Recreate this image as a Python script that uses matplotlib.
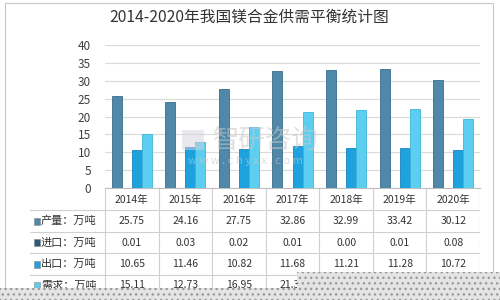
import matplotlib.pyplot as plt
import numpy as np
from matplotlib.patches import Rectangle

plt.rcParams['font.family'] = ['Noto Sans CJK SC', 'DejaVu Sans']

years = ['2014年', '2015年', '2016年', '2017年', '2018年', '2019年', '2020年']
production = [25.75, 24.16, 27.75, 32.86, 32.99, 33.42, 30.12]
imports = [0.01, 0.03, 0.02, 0.01, 0.00, 0.01, 0.08]
exports = [10.65, 11.46, 10.82, 11.68, 11.21, 11.28, 10.72]
demand = [15.11, 12.73, 16.95, 21.3, 21.8, 22.1, 19.4]

row_labels = ['产量：万吨', '进口：万吨', '出口：万吨', '需求：万吨']
series = [production, imports, exports, demand]
colors = ['#4f88a8', '#2c5a78', '#1ea2de', '#5ccff0']
edges = ['#3a6e8c', '#224a63', '#1486bd', '#3fb5d8']

W, H = 500, 300
fig = plt.figure(figsize=(5, 3), dpi=100)
fig.patch.set_facecolor('white')

def px(x0, y0, x1, y1):
    return [x0 / W, 1 - y1 / H, (x1 - x0) / W, (y1 - y0) / H]

# outer frame
fig.add_artist(Rectangle((5 / W, 0), (493 - 5) / W, 1 - 3 / H, transform=fig.transFigure,
                         fill=False, edgecolor='#c8c8c8', linewidth=0.8))

fig.text(249 / W, 1 - 17 / H, '2014-2020年我国镁合金供需平衡统计图', ha='center', va='center',
         fontsize=11.3, color='#333333')

ax = fig.add_axes(px(105, 45, 480, 188))
x = np.arange(len(years))
bw = 0.187
for i, (vals, c, e) in enumerate(zip(series, colors, edges)):
    ax.bar(x + (i - 1.5) * bw, vals, bw, color=c, edgecolor=e, linewidth=0.6, zorder=3)
ax.set_xlim(-0.5, len(years) - 0.5)
ax.set_ylim(0, 40)
ax.set_yticks(range(0, 41, 5))
ax.yaxis.grid(True, color='#dadada', linewidth=0.8, zorder=0)
ax.set_xticks([])
ax.tick_params(axis='y', length=0, labelsize=8.5, colors='#404040', pad=10)
for s in ['top', 'right', 'left']:
    ax.spines[s].set_visible(False)
ax.spines['bottom'].set_color('#bfbfbf')

# watermark
fig.text(213 / W, 1 - 140 / H, '智研咨询', fontsize=19, color='#c8c8c8', alpha=0.55,
         va='center', ha='left', zorder=5)
fig.text(188 / W, 1 - 161 / H, 'w w w . c h y x x . c o m', fontsize=8, color='#c8c8c8',
         alpha=0.6, va='center', ha='left', zorder=5)
fig.add_artist(Rectangle((182 / W, 1 - 150 / H), 22 / W, 20 / H, transform=fig.transFigure,
                         facecolor='#d6d0dc', edgecolor='none', alpha=0.5, zorder=5))

# data table
tab = fig.add_axes(px(30, 189, 480, 296))
tab.set_xlim(0, 450)
tab.set_ylim(107, 0)
tab.axis('off')
lw = 75
cw = (450 - lw) / len(years)
row_edges = [0, 21, 43, 64, 86, 107]
for i in range(len(years) + 1):
    xx = lw + i * cw
    tab.plot([xx, xx], [0, 107], color='#d0d0d0', lw=0.8)
for yy in row_edges[1:]:
    tab.plot([0, 450], [yy, yy], color='#d0d0d0', lw=0.8)
for i, yr in enumerate(years):
    tab.text(lw + (i + 0.5) * cw, 10.5, yr, ha='center', va='center', fontsize=7.5, color='#333333')
for r, (lab, vals, c) in enumerate(zip(row_labels, series, colors)):
    yc = (row_edges[r + 1] + row_edges[r + 2]) / 2
    tab.add_patch(Rectangle((4, yc - 3.5), 6, 7, facecolor=c, edgecolor='#888888', lw=0.4))
    tab.text(11, yc, lab, ha='left', va='center', fontsize=8, color='#333333')
    for i, v in enumerate(vals):
        tab.text(lw + (i + 0.5) * cw, yc, f'{v:.2f}', ha='center', va='center',
                 fontsize=7.5, color='#333333')

# dotted overlay strip at the bottom
for x0, y0 in [(297, 272), (0, 288)]:
    fig.add_artist(Rectangle((x0 / W, 0), (W - x0) / W, (H - y0) / H, transform=fig.transFigure,
                             facecolor='#e4e4e4', edgecolor='#9a9a9a', hatch='...', lw=0, zorder=10))

fig.savefig('out.png', dpi=100)
